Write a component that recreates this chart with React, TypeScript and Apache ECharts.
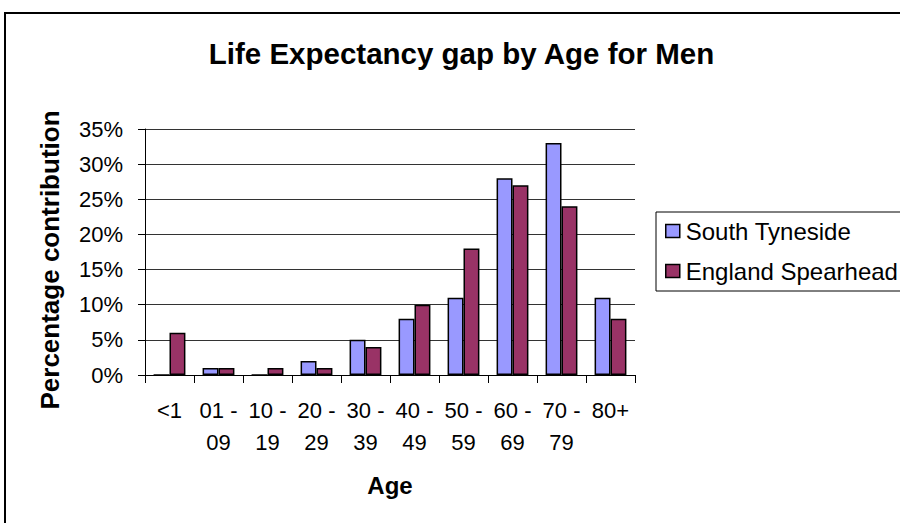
import React, { useEffect, useRef } from "react";
import * as echarts from "echarts";

const categories = ["<1", "01 -\n09", "10 -\n19", "20 -\n29", "30 -\n39", "40 -\n49", "50 -\n59", "60 -\n69", "70 -\n79", "80+"];
const southTyneside = [0, 1, 0, 2, 5, 8, 11, 28, 33, 11];
const englandSpearhead = [6, 1, 1, 1, 4, 10, 18, 27, 24, 8];
const seriesNames = ["South Tyneside", "England Spearhead"];
const yTicks = { min: 0, max: 35, interval: 5 };

const FONT = "'Liberation Sans', Arial, Helvetica, sans-serif";

export default function App() {
  const ref = useRef<HTMLDivElement>(null);
  useEffect(() => {
    if (!ref.current) return;
    const chart = echarts.init(ref.current, undefined, { renderer: "svg" });
    chart.setOption({
      animation: false,
      backgroundColor: "#ffffff",
      textStyle: { fontFamily: FONT, color: "#000" },
      title: {
        text: "Life Expectancy gap by Age for Men",
        left: 456.5,
        textAlign: "center",
        top: 33,
        padding: 5,
        textStyle: { fontFamily: FONT, fontSize: 29.5, fontWeight: "bold", color: "#000" },
      },
      graphic: [
        {
          type: "rect",
          shape: { x: 5, y: 13, width: 1000, height: 1000 },
          style: { fill: "none", stroke: "#000", lineWidth: 2 },
          silent: true,
          z: -10,
        },
      ],
      legend: {
        orient: "vertical",
        left: 656,
        top: 212,
        padding: [7, 40, 8, 9],
        itemGap: 16,
        itemWidth: 14,
        itemHeight: 13,
        borderColor: "#000",
        borderWidth: 1,
        backgroundColor: "#fff",
        icon: "rect",
        textStyle: { fontFamily: FONT, fontSize: 24, color: "#000", padding: [0, 0, 0, 1] },
        data: seriesNames.map((n) => ({ name: n, itemStyle: { borderColor: "#000", borderWidth: 1.5 } })),
      },
      grid: { left: 145, top: 129, width: 490, height: 246, containLabel: false },
      xAxis: {
        type: "category",
        data: categories,
        name: "Age",
        nameLocation: "middle",
        nameGap: 98,
        nameTextStyle: { fontFamily: FONT, fontSize: 24, fontWeight: "bold", color: "#000" },
        axisLine: { lineStyle: { color: "#000", width: 1 } },
        axisTick: { show: true, length: 8, lineStyle: { color: "#000" } },
        axisLabel: {
          interval: 0,
          fontFamily: FONT,
          fontSize: 22,
          lineHeight: 32,
          margin: 19,
          color: "#000",
        },
      },
      yAxis: {
        type: "value",
        min: yTicks.min,
        max: yTicks.max,
        interval: yTicks.interval,
        name: "Percentage contribution",
        nameLocation: "middle",
        nameGap: 82,
        nameRotate: 90,
        nameTextStyle: {
          fontFamily: FONT,
          fontSize: 26,
          fontWeight: "bold",
          color: "#000",
          padding: [0, 16, 0, 0],
        },
        axisLine: { show: true, lineStyle: { color: "#000", width: 1 } },
        axisTick: { show: true, length: 7, lineStyle: { color: "#000" } },
        axisLabel: {
          formatter: "{value}%",
          fontFamily: FONT,
          fontSize: 22,
          margin: 22,
          color: "#000",
        },
        splitLine: { show: true, lineStyle: { color: "#333", width: 1 } },
      },
      series: [
        {
          name: seriesNames[0],
          type: "bar",
          data: southTyneside,
          barCategoryGap: "35%",
          barGap: "0%",
          itemStyle: { color: "#9999FF", borderColor: "#000", borderWidth: 1.5 },
        },
        {
          name: seriesNames[1],
          type: "bar",
          data: englandSpearhead,
          barCategoryGap: "35%",
          barGap: "0%",
          itemStyle: { color: "#993366", borderColor: "#000", borderWidth: 1.5 },
        },
      ],
    });
    return () => chart.dispose();
  }, []);
  return (
    <div
      ref={ref}
      style={{ position: "fixed", left: 0, top: 0, width: 900, height: 523 }}
    />
  );
}
